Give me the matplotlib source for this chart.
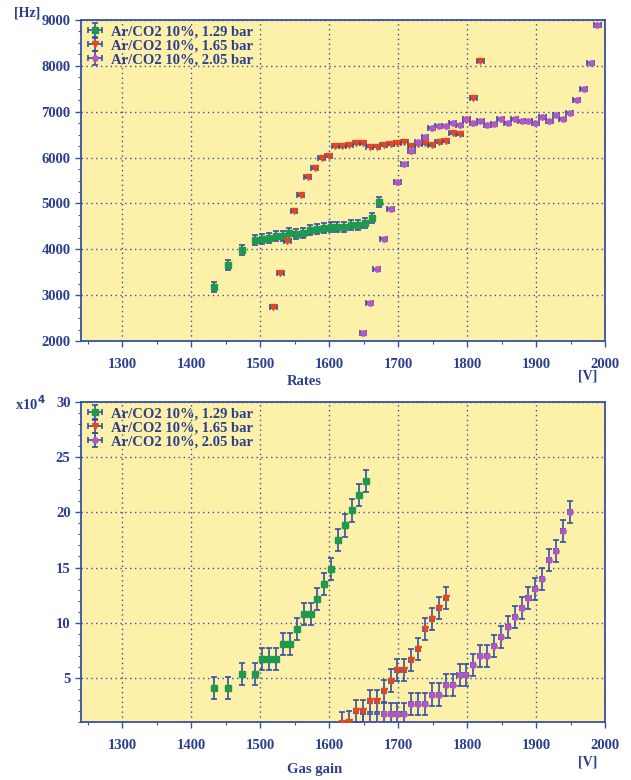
import matplotlib
matplotlib.use("Agg")
import matplotlib.pyplot as plt
from matplotlib.ticker import MultipleLocator

# ---------------- data ----------------
labels = ["Ar/CO2 10%, 1.29 bar", "Ar/CO2 10%, 1.65 bar", "Ar/CO2 10%, 2.05 bar"]

# Rates [Hz] vs voltage [V]
rate_v_129 = [1433, 1453, 1473, 1493, 1503, 1513, 1523, 1533, 1542, 1552, 1562,
              1572, 1582, 1592, 1602, 1612, 1622, 1632, 1642, 1652, 1662, 1672]
rate_129 = [3170, 3655, 3975, 4195, 4220, 4245, 4280, 4290, 4345, 4325, 4355,
            4420, 4440, 4470, 4485, 4485, 4485, 4530, 4530, 4570, 4675, 5025]

rate_v_165 = [1519, 1529, 1539, 1549, 1559, 1569, 1579, 1589, 1599, 1609, 1619,
              1629, 1639, 1649, 1659, 1669, 1679, 1689, 1699, 1709, 1719, 1729,
              1739, 1749, 1759, 1769, 1779, 1789, 1799, 1809, 1819]
rate_165 = [2745, 3475, 4180, 4840, 5185, 5575, 5780, 5990, 6040, 6245, 6245,
            6275, 6310, 6310, 6240, 6240, 6275, 6295, 6310, 6350, 6255, 6300,
            6320, 6280, 6345, 6355, 6530, 6515, 6830, 7290, 8105]

rate_v_205 = [1649, 1659, 1669, 1679, 1689, 1699, 1709, 1719, 1729, 1739, 1749,
              1759, 1769, 1779, 1789, 1799, 1809, 1819, 1829, 1839, 1849, 1859,
              1869, 1879, 1889, 1899, 1909, 1919, 1929, 1939, 1949, 1959, 1969,
              1979, 1989]
rate_205 = [2170, 2830, 3560, 4235, 4870, 5460, 5853, 6144, 6330, 6456, 6638,
            6688, 6688, 6761, 6710, 6834, 6747, 6805, 6703, 6725, 6834, 6754,
            6849, 6805, 6790, 6761, 6892, 6798, 6929, 6834, 6965, 7256, 7489,
            8057, 8900]

# Gas gain [x10^4] vs voltage [V]
gain_v_129 = [1433, 1453, 1473, 1493, 1503, 1513, 1523, 1533, 1543, 1553,
              1563, 1573, 1583, 1593, 1603, 1613, 1623, 1633, 1643, 1653]
gain_129 = [4.06, 4.06, 5.39, 5.39, 6.75, 6.75, 6.75, 8.10, 8.10, 9.43,
            10.79, 10.79, 12.11, 13.47, 14.83, 17.49, 18.81, 20.17, 21.53, 22.88]

gain_v_165 = [1619, 1629, 1639, 1649, 1659, 1669, 1679, 1689, 1699, 1709,
              1719, 1729, 1739, 1749, 1759, 1769]
gain_165 = [0.95, 1.00, 1.98, 1.98, 2.88, 2.88, 3.85, 4.76, 5.75, 5.75,
            6.66, 7.62, 9.43, 10.37, 11.33, 12.24]

gain_v_205 = [1649, 1659, 1669, 1679, 1689, 1699, 1709, 1719, 1729, 1739,
              1749, 1759, 1769, 1779, 1789, 1799, 1809, 1819, 1829, 1839,
              1849, 1859, 1869, 1879, 1889, 1899, 1909, 1919, 1929, 1939, 1949]
gain_205 = [0.75, 0.75, 0.75, 1.74, 1.74, 1.74, 1.74, 2.65, 2.65, 2.65,
            3.49, 3.49, 4.37, 4.37, 5.24, 5.24, 6.14, 7.00, 7.00, 7.86,
            8.74, 9.61, 10.49, 11.33, 12.20, 13.08, 13.96, 15.68, 16.52, 18.27, 20.02]

# ---------------- style ----------------
TXT = "#2c3f8f"
BLUE = "#3550a6"
BG = "#fdf1a9"
FONT = ["Liberation Serif", "DejaVu Serif"]
plt.rcParams["font.family"] = FONT
plt.rcParams["font.weight"] = "bold"

styles = [
    dict(marker="s", color="#1e9a4e", ms=4.2),
    dict(marker="v", color="#e8461e", ms=4.0),
    dict(marker="o", color="#b456c6", ms=3.8),
]

W, H = 631, 780
fig = plt.figure(figsize=(W / 100, H / 100), dpi=100)


def px_axes(l, t, r, b):
    return fig.add_axes([l / W, 1 - b / H, (r - l) / W, (b - t) / H])


def style_axes(ax):
    ax.set_facecolor(BG)
    for s in ax.spines.values():
        s.set_color(BLUE)
        s.set_linewidth(1.3)
    ax.grid(True, which="major", color=BLUE, linestyle=(0, (1, 2.5)), linewidth=1.0)
    ax.set_axisbelow(True)
    ax.tick_params(which="both", colors=BLUE, labelcolor=TXT, labelsize=10.5,
                   direction="out")
    ax.tick_params(which="major", length=4, width=1)
    ax.tick_params(which="minor", length=2.5, width=0.8)
    ax.tick_params(axis="x", pad=8)
    for lab in ax.get_xticklabels() + ax.get_yticklabels():
        lab.set_fontweight("bold")


def draw(ax, xs, ys, xerr, yerr):
    for (x, y, xe, ye), st, lab in zip(zip(xs, ys, xerr, yerr), styles, labels):
        ax.errorbar(x, y, xerr=xe, yerr=ye, fmt=st["marker"], color=st["color"],
                    ms=st["ms"], mec=st["color"], ecolor=BLUE, elinewidth=1.2,
                    capsize=2.5, capthick=1.2, label=lab, zorder=3)
    leg = ax.legend(loc="upper left", frameon=False, fontsize=10.5,
                    handlelength=1.2, handletextpad=0.5, labelspacing=0.05,
                    borderaxespad=0.15, borderpad=0.2)
    for t in leg.get_texts():
        t.set_color(TXT)
        t.set_fontweight("bold")


# ---------------- top: rates ----------------
ax1 = px_axes(81, 20, 605, 341)
draw(ax1, [rate_v_129, rate_v_165, rate_v_205], [rate_129, rate_165, rate_205],
     [3, 5, 5], [110, 20, 20])
ax1.set_xlim(1240, 2000)
ax1.set_ylim(2000, 9000)
ax1.xaxis.set_major_locator(MultipleLocator(100))
ax1.xaxis.set_minor_locator(MultipleLocator(50))
ax1.yaxis.set_major_locator(MultipleLocator(1000))
ax1.yaxis.set_minor_locator(MultipleLocator(250))
style_axes(ax1)
ax1.set_xticks([1300, 1400, 1500, 1600, 1700, 1800, 1900, 2000])

# ---------------- bottom: gas gain ----------------
ax2 = px_axes(81, 402, 605, 722)
draw(ax2, [gain_v_129, gain_v_165, gain_v_205], [gain_129, gain_165, gain_205],
     [3, 3, 3], [1.0, 1.0, 1.0])
ax2.set_xlim(1240, 2000)
ax2.set_ylim(1.0, 30)
ax2.xaxis.set_major_locator(MultipleLocator(100))
ax2.xaxis.set_minor_locator(MultipleLocator(50))
ax2.yaxis.set_minor_locator(MultipleLocator(1))
style_axes(ax2)
ax2.set_xticks([1300, 1400, 1500, 1600, 1700, 1800, 1900, 2000])
ax2.set_yticks([5, 10, 15, 20, 25, 30])


# ---------------- labels ----------------
def ftxt(x, y, s, **kw):
    fig.text(x / W, 1 - y / H, s, color=TXT, fontweight="bold", ha="center",
             va="center", **kw)


ftxt(27, 13, "[Hz]", fontsize=10)
ftxt(304, 381, "Rates", fontsize=10.5)
ftxt(588, 376, "[V]", fontsize=10)
ftxt(30, 404, r"x10$^{\mathbf{4}}$", fontsize=10.5)
ftxt(315, 769, "Gas gain", fontsize=10.5)
ftxt(588, 762, "[V]", fontsize=10)

fig.savefig("out.png", dpi=100)
